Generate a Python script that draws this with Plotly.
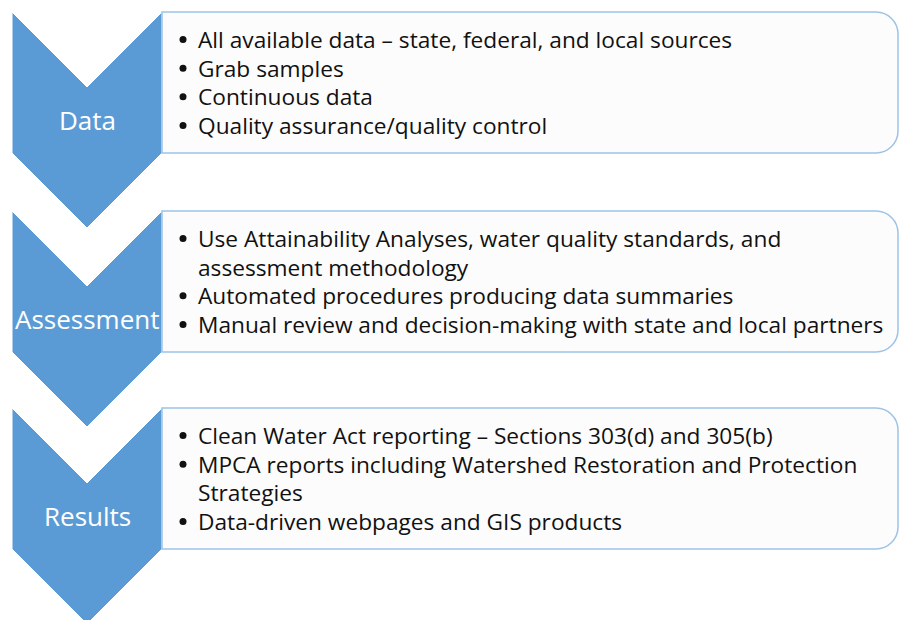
import plotly.graph_objects as go

# ---- content ----
stages = ["Data", "Assessment", "Results"]
bullets = [
    [["All available data – state, federal, and local sources"],
     ["Grab samples"],
     ["Continuous data"],
     ["Quality assurance/quality control"]],
    [["Use Attainability Analyses, water quality standards, and", "assessment methodology"],
     ["Automated procedures producing data summaries"],
     ["Manual review and decision-making with state and local partners"]],
    [["Clean Water Act reporting – Sections 303(d) and 305(b)"],
     ["MPCA reports including Watershed Restoration and Protection", "Strategies"],
     ["Data-driven webpages and GIS products"]],
]

# ---- layout geometry (pixels) ----
W, H = 899, 620
stage_top = [12, 211, 408]
box_h = 141
chev_left, chev_right = 12, 162
depth = 75
box_right = 898
radius = 22
line_h = 28.7
bullet_x = 183
text_x = 196
chev_color = "#5B9BD5"
box_border = "#9DC3E6"
box_fill = "#FCFCFC"
text_color = "#111111"
FONT = "Open Sans"

fig = go.Figure()
shapes = []
annotations = []
bx, by = [], []
cx = (chev_left + chev_right) / 2

for i, name in enumerate(stages):
    top = stage_top[i]
    bottom = top + box_h
    path = (f"M {chev_left},{top} L {cx},{top + depth} L {chev_right},{top} "
            f"L {chev_right},{bottom} L {cx},{bottom + depth} L {chev_left},{bottom} Z")
    shapes.append(dict(type="path", path=path, fillcolor=chev_color,
                       line=dict(color="white", width=1), layer="below"))
    r = radius
    bpath = (f"M {chev_right},{top} L {box_right - r},{top} "
             f"C {box_right - r*0.45},{top} {box_right},{top + r*0.45} {box_right},{top + r} "
             f"L {box_right},{bottom - r} "
             f"C {box_right},{bottom - r*0.45} {box_right - r*0.45},{bottom} {box_right - r},{bottom} "
             f"L {chev_right},{bottom} Z")
    shapes.append(dict(type="path", path=bpath, fillcolor=box_fill,
                       line=dict(color=box_border, width=1.5), layer="below"))
    annotations.append(dict(x=cx, y=(top + depth + bottom) / 2, text=name,
                            showarrow=False, xanchor="center", yanchor="middle",
                            font=dict(family=FONT, size=26, color="white")))
    lines = []
    for item in bullets[i]:
        for k, ln in enumerate(item):
            lines.append((k == 0, ln))
    n = len(lines)
    center = (top + bottom) / 2
    for j, (is_first, ln) in enumerate(lines):
        y = center + (j - (n - 1) / 2) * line_h
        if is_first:
            bx.append(bullet_x)
            by.append(y)
        annotations.append(dict(x=text_x, y=y, text=ln, showarrow=False,
                                xanchor="left", yanchor="middle",
                                font=dict(family=FONT, size=22.7, color=text_color)))

fig.add_trace(go.Scatter(x=bx, y=by, mode="markers", hoverinfo="skip",
                         marker=dict(symbol="circle", size=7, color=text_color)))

fig.update_layout(
    width=W, height=H,
    margin=dict(l=0, r=0, t=0, b=0),
    paper_bgcolor="white", plot_bgcolor="white",
    xaxis=dict(range=[0, W], visible=False, fixedrange=True),
    yaxis=dict(range=[H, 0], visible=False, fixedrange=True),
    shapes=shapes, annotations=annotations, showlegend=False,
)
fig.write_html("out.html", config={"displayModeBar": False},
               post_script="document.body.style.margin='0';")
